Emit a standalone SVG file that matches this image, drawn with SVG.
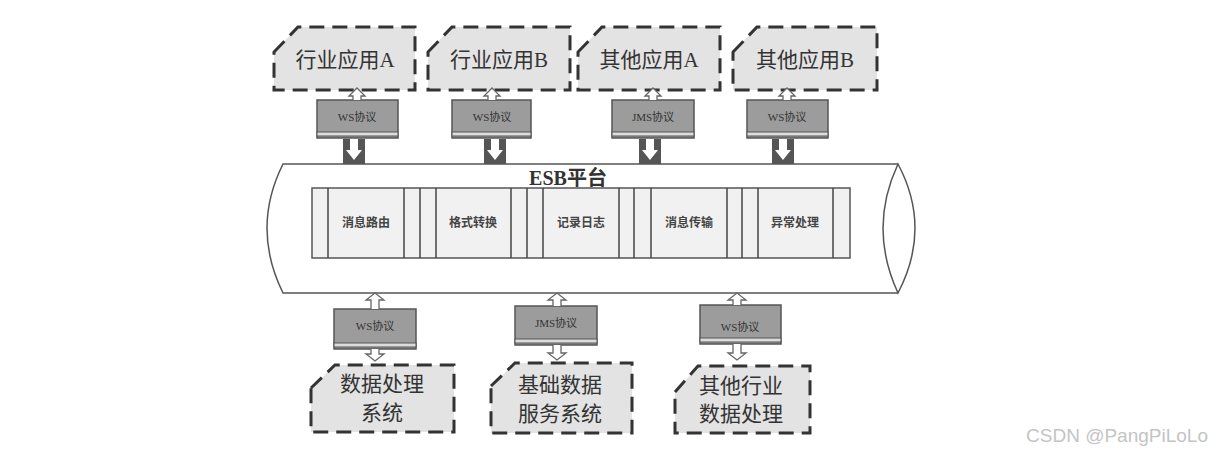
<svg xmlns="http://www.w3.org/2000/svg" width="1216" height="454" viewBox="0 0 1216 454">
<style>
.node{fill:#e3e3e3;stroke:#333;stroke-width:3;stroke-dasharray:15 8}
.ntxt{font-family:"Liberation Serif","Noto Sans CJK SC",serif;font-size:21px;fill:#333;text-anchor:middle}
.proto{fill:#9c9c9c;stroke:#555;stroke-width:1.5}
.strip{fill:#dcdcdc;stroke:#555;stroke-width:1}
.ptxt{font-family:"Liberation Serif","Noto Sans CJK SC",serif;font-size:11px;fill:#333;text-anchor:middle}
.harrow{fill:#fff;stroke:#666;stroke-width:1.3}
.dark{fill:#555}
.warrow{fill:#fff}
.cyl{fill:#fff;stroke:#555;stroke-width:1.5}
.mod{fill:#f1f1f1;stroke:#555;stroke-width:1.5}
.sep{stroke:#444;stroke-width:1.5}
.mtxt{font-family:"Noto Sans CJK SC",sans-serif;font-size:12px;font-weight:bold;fill:#444;text-anchor:middle}
</style>
<rect width="1216" height="454" fill="#fff"/>

<g id="esb">
<path class="cyl" d="M898,164 L283,164 Q251,228 283,293 L898,293"/>
<path class="cyl" d="M898,164 Q868,228 898,293 Q932,228 898,164 Z"/>
<text x="568" y="185" font-family="Liberation Serif,'Noto Sans CJK SC',serif" font-size="20" font-weight="bold" fill="#333" text-anchor="middle">ESB平台</text>
<rect class="mod" x="312" y="188" width="538" height="70"/>
<g>
<line class="sep" x1="328" y1="188" x2="328" y2="258"/>
<line class="sep" x1="404" y1="188" x2="404" y2="258"/>
<line class="sep" x1="420" y1="188" x2="420" y2="258"/>
<line class="sep" x1="436" y1="188" x2="436" y2="258"/>
<line class="sep" x1="511" y1="188" x2="511" y2="258"/>
<line class="sep" x1="527" y1="188" x2="527" y2="258"/>
<line class="sep" x1="543" y1="188" x2="543" y2="258"/>
<line class="sep" x1="619" y1="188" x2="619" y2="258"/>
<line class="sep" x1="634" y1="188" x2="634" y2="258"/>
<line class="sep" x1="651" y1="188" x2="651" y2="258"/>
<line class="sep" x1="727" y1="188" x2="727" y2="258"/>
<line class="sep" x1="742" y1="188" x2="742" y2="258"/>
<line class="sep" x1="758" y1="188" x2="758" y2="258"/>
<line class="sep" x1="833" y1="188" x2="833" y2="258"/>
</g>
<text class="mtxt" x="366" y="227">消息路由</text>
<text class="mtxt" x="473" y="227">格式转换</text>
<text class="mtxt" x="581" y="227">记录日志</text>
<text class="mtxt" x="689" y="227">消息传输</text>
<text class="mtxt" x="795" y="227">异常处理</text>
</g>

<g id="app-a">
<path class="node" d="M274,52 L298,27 L415,27 L415,90 L274,90 Z"/>
<text class="ntxt" x="345" y="67">行业应用A</text>
</g>
<g id="app-b">
<path class="node" d="M428,52 L452,27 L570,27 L570,90 L428,90 Z"/>
<text class="ntxt" x="499" y="67">行业应用B</text>
</g>
<g id="other-a">
<path class="node" d="M578,52 L602,27 L720,27 L720,90 L578,90 Z"/>
<text class="ntxt" x="649" y="67">其他应用A</text>
</g>
<g id="other-b">
<path class="node" d="M733,52 L757,27 L877,27 L877,90 L733,90 Z"/>
<text class="ntxt" x="805" y="67">其他应用B</text>
</g>

<g id="data-proc">
<path class="node" d="M311,388 L335,365 L454,365 L454,432 L311,432 Z"/>
<text class="ntxt" x="382" y="391">数据处理</text>
<text class="ntxt" x="382" y="420">系统</text>
</g>
<g id="base-data">
<path class="node" d="M491,386 L515,363 L632,363 L632,433 L491,433 Z"/>
<text class="ntxt" x="560" y="392">基础数据</text>
<text class="ntxt" x="560" y="421">服务系统</text>
</g>
<g id="other-industry">
<path class="node" d="M675,392 L698,366 L810,366 L810,433 L675,433 Z"/>
<text class="ntxt" x="741" y="393">其他行业</text>
<text class="ntxt" x="741" y="421">数据处理</text>
</g>

<g id="proto-1">
<rect class="proto" x="317" y="100" width="81" height="38"/>
<rect class="strip" x="317" y="132" width="81" height="4"/>
<text class="ptxt" x="357" y="121">WS协议</text>
</g>
<g id="proto-2">
<rect class="proto" x="452" y="100" width="79" height="38"/>
<rect class="strip" x="452" y="132" width="79" height="4"/>
<text class="ptxt" x="492" y="121">WS协议</text>
</g>
<g id="proto-3">
<rect class="proto" x="612" y="100" width="82" height="38"/>
<rect class="strip" x="612" y="132" width="82" height="4"/>
<text class="ptxt" x="653" y="121">JMS协议</text>
</g>
<g id="proto-4">
<rect class="proto" x="747" y="100" width="81" height="38"/>
<rect class="strip" x="747" y="132" width="81" height="4"/>
<text class="ptxt" x="787" y="121">WS协议</text>
</g>
<g id="proto-5">
<rect class="proto" x="334" y="309" width="82" height="40"/>
<rect class="strip" x="334" y="343" width="82" height="4"/>
<text class="ptxt" x="375" y="330">WS协议</text>
</g>
<g id="proto-6">
<rect class="proto" x="515" y="306" width="82" height="39"/>
<rect class="strip" x="515" y="339" width="82" height="4"/>
<text class="ptxt" x="556" y="327">JMS协议</text>
</g>
<g id="proto-7">
<rect class="proto" x="700" y="305" width="81" height="39"/>
<rect class="strip" x="700" y="338" width="81" height="4"/>
<text class="ptxt" x="740" y="331">WS协议</text>
</g>

<g id="connectors">
<path class="harrow" d="M353,100 L353,96 L349,96 L357,88 L365,96 L361,96 L361,100"/>
<path class="harrow" d="M488,100 L488,96 L484,96 L492,88 L500,96 L496,96 L496,100"/>
<path class="harrow" d="M649,100 L649,96 L645,96 L653,88 L661,96 L657,96 L657,100"/>
<path class="harrow" d="M783,100 L783,96 L779,96 L787,88 L795,96 L791,96 L791,100"/>
<g>
<rect class="dark" x="343" y="139" width="22" height="25"/>
<path class="warrow" d="M350,139 L358,139 L358,150 L362,150 L354,160 L346,150 L350,150 Z"/>
<rect class="dark" x="484" y="139" width="22" height="25"/>
<path class="warrow" d="M491,139 L499,139 L499,150 L503,150 L495,160 L487,150 L491,150 Z"/>
<rect class="dark" x="639" y="139" width="22" height="25"/>
<path class="warrow" d="M646,139 L654,139 L654,150 L658,150 L650,160 L642,150 L646,150 Z"/>
<rect class="dark" x="772" y="139" width="22" height="25"/>
<path class="warrow" d="M779,139 L787,139 L787,150 L791,150 L783,160 L775,150 L779,150 Z"/>
</g>
<path class="harrow" d="M371,309 L371,300 L366,300 L375,293 L384,300 L379,300 L379,309"/>
<path class="harrow" d="M371,349 L371,354 L366,354 L375,361 L384,354 L379,354 L379,349"/>
<path class="harrow" d="M553,306 L553,300 L548,300 L557,293 L566,300 L561,300 L561,306"/>
<path class="harrow" d="M553,345 L553,353 L548,353 L557,360 L566,353 L561,353 L561,345"/>
<path class="harrow" d="M733,305 L733,300 L728,300 L737,293 L746,300 L741,300 L741,305"/>
<path class="harrow" d="M733,344 L733,353 L728,353 L737,360 L746,353 L741,353 L741,344"/>
</g>

<text x="1208" y="442" font-family="Liberation Sans,Arial,sans-serif" font-size="19" fill="#c4c4c4" text-anchor="end">CSDN @PangPiLoLo</text>
</svg>
